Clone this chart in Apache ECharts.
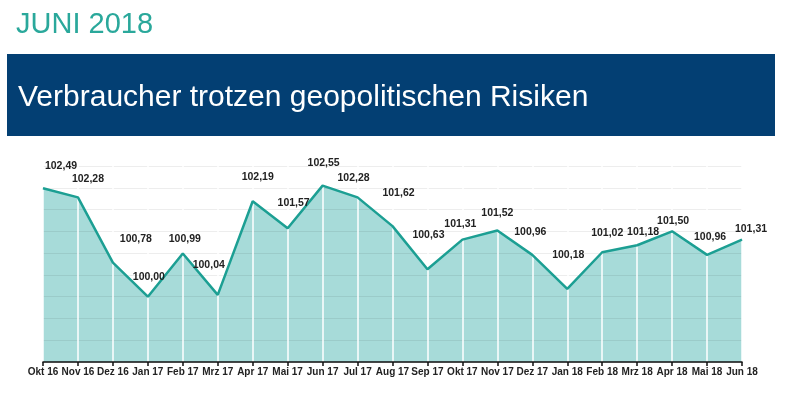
<!DOCTYPE html>
<html>
<head>
<meta charset="utf-8">
<script src="https://cdn.jsdelivr.net/npm/echarts@6/dist/echarts.min.js"></script>
<style>
  html, body { margin: 0; padding: 0; background: #fff; }
  #chart { width: 800px; height: 400px; }
</style>
</head>
<body>
<div id="chart"></div>
<script>
var months = ["Okt 16", "Nov 16", "Dez 16", "Jan 17", "Feb 17", "Mrz 17", "Apr 17", "Mai 17", "Jun 17", "Jul 17", "Aug 17",
    "Sep 17", "Okt 17", "Nov 17", "Dez 17", "Jan 18", "Feb 18", "Mrz 18", "Apr 18", "Mai 18", "Jun 18"]
var index_values = [102.49, 102.28, 100.78, 100.00, 100.99, 100.04, 102.19, 101.57, 102.55, 102.28, 101.62,
    100.63, 101.31, 101.52, 100.96, 100.18, 101.02, 101.18, 101.50, 100.96, 101.31]
// hand placed label nudges [dx, dy] like in the original slide
var label_shift = [[18, -11], [10, -8], [23, -13], [1, -9], [2, -4], [-9, -19], [5, -13], [6, -14], [1, -12], [-4, -9], [6, -22],
    [1, -23], [-2, -5], [0, -7], [-2, -12], [1, -23], [5, -8], [6, -2], [1, 1], [3, -7], [9, 0]]

var chart = echarts.init(document.getElementById("chart"))

var option = {
    animation: false,
    textStyle: { fontFamily: "Liberation Sans, Arial, sans-serif" },
    graphic: [
        {
            type: "text",
            left: 16,
            top: 10,
            style: { text: "JUNI 2018", fill: "#2aa89b", font: "29px 'Liberation Sans', Arial, sans-serif" }
        },
        {
            type: "rect",
            shape: { x: 7, y: 54, width: 768, height: 82 },
            style: { fill: "#033f73" }
        },
        {
            type: "text",
            left: 18,
            top: 83,
            style: { text: "Verbraucher trotzen geopolitischen Risiken", fill: "#ffffff", font: "30px 'Liberation Sans', Arial, sans-serif" }
        }
    ],
    grid: {
        left: 43,
        right: 58,
        top: 166,
        bottom: 38
    },
    xAxis: {
        type: "category",
        data: months,
        boundaryGap: false,
        z: 2,
        axisLine: { lineStyle: { color: "#111", width: 1.5 } },
        axisTick: { show: true, length: 4, lineStyle: { color: "#111", width: 1.5 } },
        axisLabel: {
            interval: 0,
            margin: 5,
            color: "#222",
            fontSize: 10,
            fontWeight: "bold",
            fontFamily: "Liberation Sans Narrow, Liberation Sans, Arial, sans-serif"
        },
        splitLine: { show: true, lineStyle: { color: "#ffffff", width: 1.5 } }
    },
    yAxis: {
        type: "value",
        min: 98.5,
        max: 103,
        interval: 0.5,
        z: 2,
        axisLine: { show: false },
        axisTick: { show: false },
        axisLabel: { show: false },
        splitLine: { lineStyle: { color: "rgba(0,0,0,0.07)", width: 1 } }
    },
    series: [
        {
            type: "line",
            data: index_values,
            z: 1,
            showSymbol: false,
            lineStyle: { width: 0 },
            areaStyle: { color: "#a7dbd9", opacity: 1 }
        },
        {
            type: "line",
            data: index_values,
            z: 3,
            showSymbol: true,
            showAllSymbol: true,
            symbol: "circle",
            symbolSize: 0.5,
            itemStyle: { color: "#1c9f93" },
            lineStyle: { color: "#1c9f93", width: 2.5 },
            label: {
                show: true,
                position: "top",
                distance: 5,
                color: "#222",
                fontSize: 10.5,
                fontWeight: "bold",
                formatter: function (p) {
                    return p.value.toFixed(2).replace(".", ",")
                }
            },
            labelLayout: function (params) {
                var s = label_shift[params.dataIndex]
                return { dx: s[0], dy: s[1], hideOverlap: false }
            }
        }
    ]
}

chart.setOption(option)
</script>
</body>
</html>
